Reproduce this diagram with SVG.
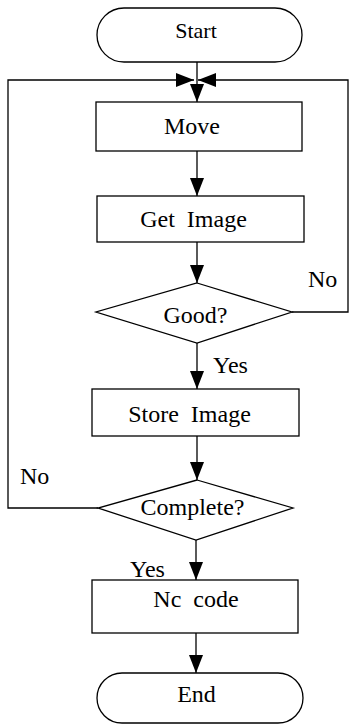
<svg xmlns="http://www.w3.org/2000/svg" width="349" height="725" viewBox="0 0 349 725">
<defs>
<marker id="ah" viewBox="0 0 18 14" refX="18" refY="7" markerWidth="18" markerHeight="14" markerUnits="userSpaceOnUse" orient="auto">
<path d="M0,0 L18,7 L0,14 Z" fill="#000"/>
</marker>
</defs>
<style>
.n{fill:#fff;stroke:#000;stroke-width:1.3}
.t{font-family:"Liberation Serif","Times New Roman",serif;font-size:24px;fill:#000;text-anchor:middle;white-space:pre}
.l{font-family:"Liberation Serif","Times New Roman",serif;font-size:24px;fill:#000}
.c{fill:none;stroke:#000;stroke-width:1.3}
</style>
<rect width="349" height="725" fill="#fff"/>
<g id="connectors">
<line class="c" x1="197" y1="62" x2="197" y2="102" marker-end="url(#ah)"/>
<polyline class="c" points="98,508 8,508 8,80 194,80" marker-end="url(#ah)"/>
<polyline class="c" points="292,312 348,312 348,80 198,80" marker-end="url(#ah)"/>
<line class="c" x1="197" y1="151" x2="197" y2="196" marker-end="url(#ah)"/>
<line class="c" x1="197" y1="242" x2="197" y2="283" marker-end="url(#ah)"/>
<line class="c" x1="197" y1="343" x2="197" y2="389" marker-end="url(#ah)"/>
<line class="c" x1="197" y1="436" x2="197" y2="480" marker-end="url(#ah)"/>
<line class="c" x1="196" y1="540" x2="196" y2="580" marker-end="url(#ah)"/>
<line class="c" x1="196" y1="633" x2="196" y2="673" marker-end="url(#ah)"/>
<text class="l" x="308" y="287">No</text>
<text class="l" x="213" y="373">Yes</text>
<text class="l" x="20" y="484">No</text>
<text class="l" x="130" y="577">Yes</text>
</g>
<g id="start"><rect class="n" x="97" y="8" width="205" height="54" rx="27"/><text class="t" x="196" y="38" style="font-size:22px">Start</text></g>
<g id="move"><rect class="n" x="96" y="102" width="206" height="49"/><text class="t" x="192" y="134">Move</text></g>
<g id="getimage"><rect class="n" x="97" y="196" width="207" height="46"/><text class="t" x="193.5" y="227">Get  Image</text></g>
<g id="good"><polygon class="n" points="197,283 292,312 197,343 96,312"/><text class="t" x="195.5" y="323">Good?</text></g>
<g id="storeimage"><rect class="n" x="92" y="389" width="207" height="47"/><text class="t" x="189.5" y="422">Store  Image</text></g>
<g id="complete"><polygon class="n" points="197,480 293,508 196,540 98,508"/><text class="t" x="192.5" y="515">Complete?</text></g>
<g id="nccode"><rect class="n" x="92" y="580" width="206" height="53"/><text class="t" x="196" y="607">Nc  code</text></g>
<g id="end"><rect class="n" x="97" y="673" width="206" height="50" rx="25"/><text class="t" x="196.5" y="702">End</text></g>
</svg>
